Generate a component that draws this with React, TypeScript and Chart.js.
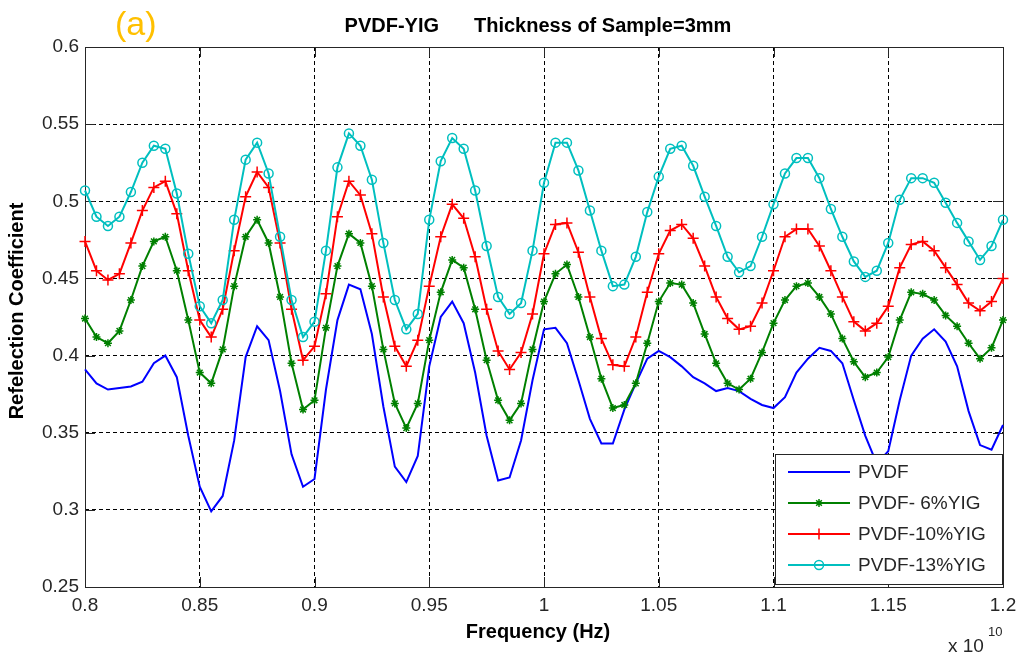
import React, { useEffect, useRef } from 'react';
import { Chart, registerables } from 'chart.js';
import { drawPoint } from 'chart.js/helpers';

Chart.register(...registerables);

// frequency in units of 1e10 Hz
const freq = [
  0.8, 0.805, 0.81, 0.815, 0.82, 0.825, 0.83, 0.835, 0.84, 0.845,
  0.85, 0.855, 0.86, 0.865, 0.87, 0.875, 0.88, 0.885, 0.89, 0.895,
  0.9, 0.905, 0.91, 0.915, 0.92, 0.925, 0.93, 0.935, 0.94, 0.945,
  0.95, 0.955, 0.96, 0.965, 0.97, 0.975, 0.98, 0.985, 0.99, 0.995,
  1.0, 1.005, 1.01, 1.015, 1.02, 1.025, 1.03, 1.035, 1.04, 1.045,
  1.05, 1.055, 1.06, 1.065, 1.07, 1.075, 1.08, 1.085, 1.09, 1.095,
  1.1, 1.105, 1.11, 1.115, 1.12, 1.125, 1.13, 1.135, 1.14, 1.145,
  1.15, 1.155, 1.16, 1.165, 1.17, 1.175, 1.18, 1.185, 1.19, 1.195,
  1.2,
];

const pvdf = [
  0.391, 0.382, 0.378, 0.379, 0.38, 0.383, 0.395, 0.4, 0.386, 0.348,
  0.315, 0.299, 0.309, 0.345, 0.399, 0.419, 0.41, 0.377, 0.336, 0.315,
  0.32, 0.378, 0.423, 0.446, 0.443, 0.414, 0.367, 0.328, 0.318, 0.335,
  0.393, 0.425, 0.435, 0.421, 0.389, 0.348, 0.319, 0.321, 0.345, 0.384,
  0.417, 0.418, 0.408, 0.384, 0.359, 0.343, 0.343, 0.365, 0.382, 0.398,
  0.403, 0.399, 0.393, 0.386, 0.382, 0.377, 0.379, 0.377, 0.372, 0.368,
  0.366, 0.373, 0.389, 0.398, 0.405, 0.403, 0.395, 0.371, 0.348, 0.33,
  0.338, 0.371, 0.4, 0.411, 0.417, 0.409, 0.393, 0.364, 0.342, 0.339,
  0.355,
];

const yig6 = [
  0.424, 0.412, 0.408, 0.416, 0.436, 0.458, 0.474, 0.477, 0.455, 0.423,
  0.389, 0.382, 0.404, 0.445, 0.477, 0.488, 0.473, 0.438, 0.395, 0.365,
  0.371, 0.418, 0.458, 0.479, 0.473, 0.445, 0.404, 0.369, 0.353, 0.369,
  0.41, 0.441, 0.462, 0.457, 0.43, 0.397, 0.371, 0.358, 0.369, 0.404,
  0.435, 0.453, 0.459, 0.438, 0.412, 0.385, 0.366, 0.368, 0.382, 0.408,
  0.435, 0.447, 0.446, 0.434, 0.414, 0.395, 0.382, 0.378, 0.385, 0.402,
  0.421, 0.436, 0.445, 0.447, 0.438, 0.427, 0.411, 0.396, 0.386, 0.389,
  0.399, 0.423, 0.441, 0.44, 0.436, 0.426, 0.419, 0.408, 0.398, 0.405,
  0.423,
];

const yig10 = [
  0.474, 0.455, 0.449, 0.453, 0.473, 0.494, 0.509, 0.513, 0.492, 0.455,
  0.423, 0.412, 0.43, 0.468, 0.503, 0.519, 0.509, 0.473, 0.43, 0.397,
  0.406, 0.44, 0.49, 0.513, 0.504, 0.479, 0.438, 0.406, 0.393, 0.41,
  0.445, 0.477, 0.498, 0.489, 0.464, 0.43, 0.403, 0.391, 0.402, 0.427,
  0.466, 0.485, 0.486, 0.467, 0.438, 0.411, 0.394, 0.393, 0.412, 0.441,
  0.466, 0.481, 0.485, 0.476, 0.458, 0.438, 0.424, 0.417, 0.419, 0.434,
  0.455, 0.477, 0.482, 0.482, 0.471, 0.455, 0.438, 0.422, 0.416, 0.421,
  0.432, 0.457, 0.472, 0.474, 0.468, 0.457, 0.446, 0.434, 0.429, 0.435,
  0.45,
];

const yig13 = [
  0.507, 0.49, 0.484, 0.49, 0.506, 0.525, 0.536, 0.534, 0.505, 0.466,
  0.432, 0.421, 0.436, 0.488, 0.527, 0.538, 0.518, 0.477, 0.436, 0.412,
  0.422, 0.468, 0.522, 0.544, 0.536, 0.514, 0.473, 0.436, 0.417, 0.427,
  0.488, 0.526, 0.541, 0.534, 0.507, 0.471, 0.438, 0.427, 0.434, 0.468,
  0.512, 0.538, 0.538, 0.52, 0.494, 0.468, 0.445, 0.446, 0.464, 0.493,
  0.516, 0.534, 0.536, 0.523, 0.503, 0.484, 0.464, 0.454, 0.458, 0.477,
  0.498, 0.518, 0.528, 0.528, 0.515, 0.495, 0.477, 0.461, 0.451, 0.455,
  0.473, 0.501, 0.515, 0.515, 0.512, 0.499, 0.486, 0.474, 0.462, 0.471,
  0.488,
];

const FONT = '"Liberation Sans", Arial, sans-serif';
const INK = '#262626';

const fmt = (v: number) => String(Math.round(v * 100) / 100);

// axis box and inward ticks, like the matlab figure
const frame = {
  id: 'frame',
  beforeDatasetsDraw(chart: any) {
    const { ctx, chartArea: a, scales } = chart;
    const len = 10;
    ctx.save();
    ctx.strokeStyle = INK;
    ctx.lineWidth = 1;
    ctx.beginPath();
    scales.x.ticks.forEach((t: any) => {
      const px = Math.round(scales.x.getPixelForValue(t.value)) + 0.5;
      ctx.moveTo(px, a.bottom);
      ctx.lineTo(px, a.bottom - len);
      ctx.moveTo(px, a.top);
      ctx.lineTo(px, a.top + len);
    });
    scales.y.ticks.forEach((t: any) => {
      const py = Math.round(scales.y.getPixelForValue(t.value)) + 0.5;
      ctx.moveTo(a.left, py);
      ctx.lineTo(a.left + len, py);
      ctx.moveTo(a.right, py);
      ctx.lineTo(a.right - len, py);
    });
    ctx.stroke();
    ctx.strokeRect(Math.round(a.left) + 0.5, Math.round(a.top) + 0.5, Math.round(a.right - a.left), Math.round(a.bottom - a.top));
    ctx.restore();
  },
};

// legend box drawn inside the plot, bottom right
const insideLegend = {
  id: 'insideLegend',
  afterDatasetsDraw(chart: any) {
    const { ctx, chartArea: a } = chart;
    const w = 227;
    const h = 130;
    const bx = Math.round(a.right) - w - 1;
    const by = Math.round(a.bottom) - h - 3;
    ctx.save();
    ctx.fillStyle = '#fff';
    ctx.fillRect(bx, by, w, h);
    ctx.strokeStyle = INK;
    ctx.lineWidth = 1;
    ctx.strokeRect(bx + 0.5, by + 0.5, w, h);
    chart.data.datasets.forEach((ds: any, i: number) => {
      const yy = by + 18 + i * 31;
      ctx.strokeStyle = ds.borderColor;
      ctx.lineWidth = ds.borderWidth;
      ctx.beginPath();
      ctx.moveTo(bx + 13, yy);
      ctx.lineTo(bx + 75, yy);
      ctx.stroke();
      if (ds.pointRadius > 0) {
        ctx.fillStyle = ds.pointBackgroundColor;
        ctx.strokeStyle = ds.borderColor;
        ctx.lineWidth = ds.pointBorderWidth;
        drawPoint(ctx, { pointStyle: ds.pointStyle, radius: ds.pointRadius, borderWidth: ds.pointBorderWidth, rotation: 0 }, bx + 44, yy);
      }
      ctx.fillStyle = INK;
      ctx.font = '19px ' + FONT;
      ctx.textAlign = 'left';
      ctx.textBaseline = 'middle';
      ctx.fillText(ds.label, bx + 83, yy + 1);
    });
    ctx.restore();
  },
};

const labels = {
  id: 'labels',
  afterDraw(chart: any) {
    const { ctx, chartArea: a } = chart;
    const cx = (a.left + a.right) / 2;
    ctx.save();
    ctx.textBaseline = 'alphabetic';

    ctx.fillStyle = '#FFC000';
    ctx.font = '34px ' + FONT;
    ctx.textAlign = 'left';
    ctx.fillText('(a)', 115, 35);

    ctx.fillStyle = '#000';
    ctx.font = 'bold 20px ' + FONT;
    ctx.textAlign = 'right';
    ctx.fillText('PVDF-YIG', 439, 32);
    ctx.textAlign = 'left';
    ctx.fillText('Thickness of Sample=3mm', 474, 32);

    ctx.textAlign = 'center';
    ctx.fillText('Frequency (Hz)', cx - 6, 638);

    ctx.save();
    ctx.translate(23, 311);
    ctx.rotate(-Math.PI / 2);
    ctx.fillText('Refelection Coefficient', 0, 0);
    ctx.restore();

    ctx.fillStyle = INK;
    ctx.textAlign = 'left';
    ctx.font = '19px ' + FONT;
    ctx.fillText('x 10', 948, 652);
    ctx.font = '13px ' + FONT;
    ctx.fillText('10', 988, 636);
    ctx.restore();
  },
};

const axisStyle = {
  grid: { color: '#000', lineWidth: 1, drawTicks: false },
  border: { display: false, dash: [4, 3] },
};

const App = () => {
  const canvasRef = useRef<HTMLCanvasElement>(null);

  useEffect(() => {
    document.body.style.margin = '0';
    const chart = new Chart(canvasRef.current as HTMLCanvasElement, {
      type: 'line',
      data: {
        datasets: [
          {
            label: 'PVDF',
            data: freq.map((f, i) => ({ x: f, y: pvdf[i] })),
            borderColor: '#0000FF',
            borderWidth: 2,
            pointRadius: 0,
            order: 3,
          },
          {
            label: 'PVDF- 6%YIG',
            data: freq.map((f, i) => ({ x: f, y: yig6[i] })),
            borderColor: '#008000',
            borderWidth: 2,
            pointStyle: 'star',
            pointRadius: 4,
            pointBorderWidth: 1.5,
            pointBorderColor: '#008000',
            pointBackgroundColor: '#008000',
            order: 2,
          },
          {
            label: 'PVDF-10%YIG',
            data: freq.map((f, i) => ({ x: f, y: yig10[i] })),
            borderColor: '#FF0000',
            borderWidth: 2,
            pointStyle: 'cross',
            pointRadius: 5.5,
            pointBorderWidth: 1.5,
            pointBorderColor: '#FF0000',
            pointBackgroundColor: '#FF0000',
            order: 1,
          },
          {
            label: 'PVDF-13%YIG',
            data: freq.map((f, i) => ({ x: f, y: yig13[i] })),
            borderColor: '#00BFBF',
            borderWidth: 2,
            pointStyle: 'circle',
            pointRadius: 4.5,
            pointBorderWidth: 1.5,
            pointBorderColor: '#00BFBF',
            pointBackgroundColor: 'rgba(0,0,0,0)',
            order: 0,
          },
        ] as any,
      },
      options: {
        responsive: false,
        animation: false,
        events: [],
        layout: { padding: { top: 47, right: 21, left: 0, bottom: 0 } },
        elements: { line: { tension: 0 } },
        datasets: { line: { clip: false } as any },
        plugins: {
          legend: { display: false },
          tooltip: { enabled: false },
        },
        scales: {
          x: {
            type: 'linear',
            min: 0.8,
            max: 1.2,
            ...axisStyle,
            ticks: { stepSize: 0.05, padding: 7, color: INK, font: { family: FONT, size: 19 }, callback: (v: any) => fmt(v) },
            afterFit: (s: any) => { s.height = 72; },
          },
          y: {
            type: 'linear',
            min: 0.25,
            max: 0.6,
            ...axisStyle,
            ticks: { stepSize: 0.05, padding: 6, color: INK, font: { family: FONT, size: 19 }, callback: (v: any) => fmt(v) },
            afterFit: (s: any) => { s.width = 85; },
          },
        } as any,
      },
      plugins: [frame, insideLegend, labels],
    });

    return () => chart.destroy();
  }, []);

  return (
    <div style={{ width: 1024, height: 659 }}>
      <canvas ref={canvasRef} width={1024} height={659} style={{ display: 'block' }} />
    </div>
  );
};

export default App;
